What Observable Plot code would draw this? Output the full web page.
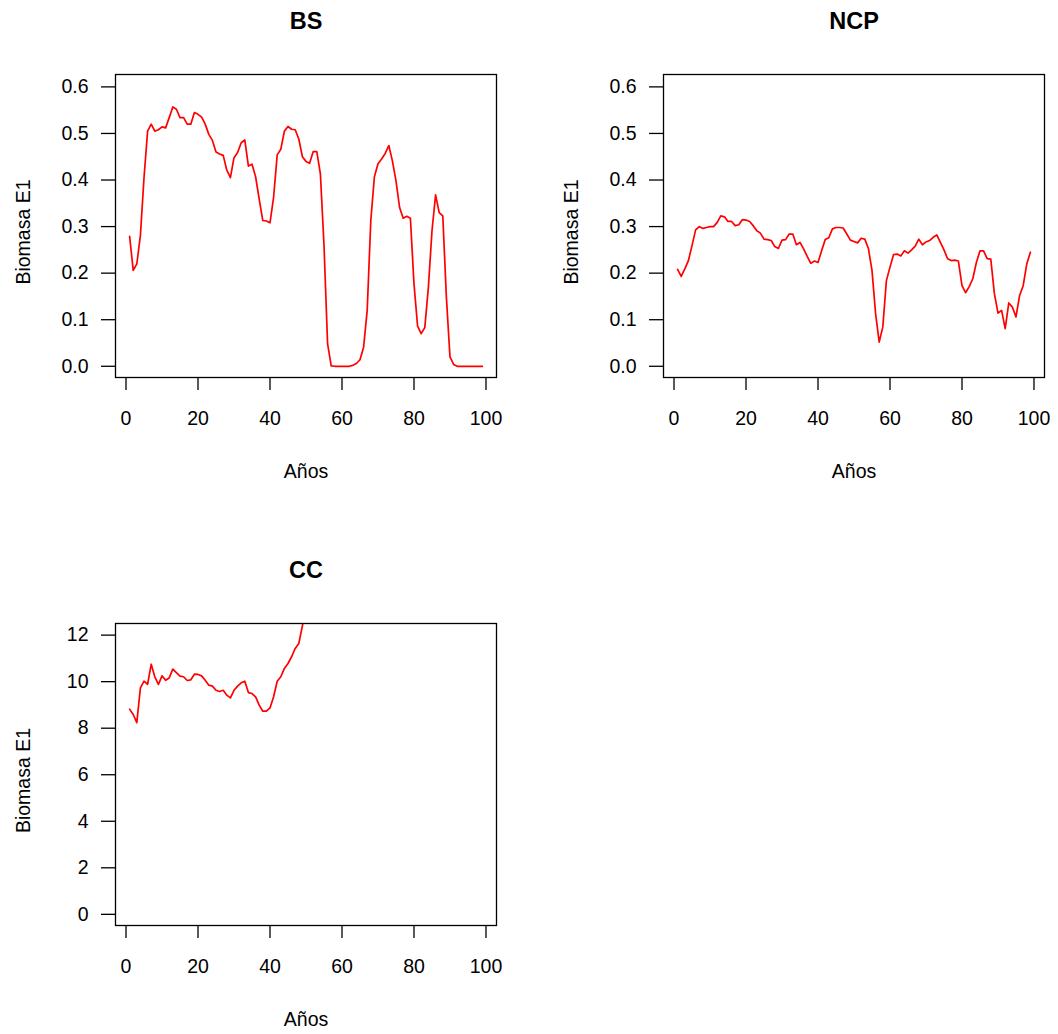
<!DOCTYPE html>
<html>
<head>
<meta charset="utf-8">
<script src="https://cdn.jsdelivr.net/npm/d3@7"></script>
<script src="https://cdn.jsdelivr.net/npm/@observablehq/plot@0.6"></script>
<style>
  body { margin: 0; background: #fff; }
  #wrap { position: relative; width: 1058px; height: 1034px; background: #fff; overflow: hidden; }
  #wrap > svg { position: absolute; }
</style>
</head>
<body>
<div id="wrap"></div>
<script>
// Years (index of the simulation)
const years = d3.range(1, 100);
const xTicks = [0, 20, 40, 60, 80, 100];

// Panel titles
const titles = ["BS", "NCP", "CC"];
const xLabel = "Años";
const yLabel = "Biomasa E1";

// BS series (years 1..99)
const bsValues = [
  0.279, 0.206, 0.220, 0.281, 0.405, 0.505, 0.520, 0.505, 0.508, 0.514,
  0.512, 0.534, 0.557, 0.552, 0.534, 0.534, 0.520, 0.520, 0.545, 0.541,
  0.535, 0.520, 0.498, 0.485, 0.460, 0.456, 0.453, 0.421, 0.405, 0.448,
  0.459, 0.480, 0.486, 0.430, 0.434, 0.407, 0.359, 0.313, 0.312, 0.308,
  0.363, 0.454, 0.466, 0.505, 0.515, 0.509, 0.508, 0.488, 0.450, 0.440,
  0.436, 0.461, 0.461, 0.413, 0.260, 0.048, 0.001, 0.000, 0.000, 0.000,
  0.000, 0.000, 0.002, 0.006, 0.014, 0.041, 0.120, 0.313, 0.407, 0.435,
  0.445, 0.457, 0.474, 0.441, 0.398, 0.341, 0.318, 0.322, 0.318, 0.177,
  0.086, 0.070, 0.083, 0.170, 0.291, 0.368, 0.330, 0.323, 0.148, 0.020,
  0.004, 0.000, 0.000, 0.000, 0.000, 0.000, 0.000, 0.000, 0.000
];

// NCP series (years 1..99)
const ncpValues = [
  0.208, 0.193, 0.209, 0.227, 0.259, 0.293, 0.300, 0.296, 0.298, 0.300,
  0.300, 0.309, 0.323, 0.321, 0.311, 0.311, 0.302, 0.304, 0.315, 0.314,
  0.311, 0.302, 0.291, 0.286, 0.273, 0.272, 0.270, 0.257, 0.253, 0.271,
  0.272, 0.284, 0.284, 0.261, 0.266, 0.252, 0.236, 0.221, 0.226, 0.223,
  0.248, 0.272, 0.276, 0.295, 0.298, 0.298, 0.297, 0.284, 0.271, 0.268,
  0.265, 0.275, 0.273, 0.253, 0.206, 0.113, 0.052, 0.084, 0.184, 0.213,
  0.240, 0.241, 0.237, 0.248, 0.243, 0.250, 0.258, 0.273, 0.261, 0.267,
  0.270, 0.277, 0.282, 0.266, 0.250, 0.231, 0.227, 0.228, 0.226, 0.173,
  0.158, 0.171, 0.188, 0.223, 0.248, 0.248, 0.231, 0.230, 0.156, 0.114,
  0.120, 0.081, 0.136, 0.127, 0.106, 0.152, 0.173, 0.220, 0.245
];

// CC series (years 1..50, then leaves the plotting region)
const ccValues = [
  8.82, 8.59, 8.24, 9.73, 10.02, 9.89, 10.75, 10.21, 9.88, 10.25,
  10.06, 10.16, 10.54, 10.39, 10.24, 10.21, 10.05, 10.08, 10.32, 10.31,
  10.25, 10.06, 9.85, 9.81, 9.63, 9.58, 9.63, 9.42, 9.30, 9.63,
  9.81, 9.95, 10.02, 9.53, 9.49, 9.35, 8.99, 8.73, 8.73, 8.87,
  9.35, 10.02, 10.21, 10.57, 10.78, 11.07, 11.43, 11.64, 12.40, 13.30
];

const smallTicks = [0, 0.1, 0.2, 0.3, 0.4, 0.5, 0.6];
const ccTicks = [0, 2, 4, 6, 8, 10, 12];

const FONT = "'Liberation Sans', Arial, Helvetica, sans-serif";
const FS = 19.5;

function panel({title, values, yDomain, yTicks, yFormat, left, top, width, height, mLeft, mRight, mTop, mBottom}) {
  const data = values.map((v, i) => ({x: years[i], y: v}));
  const svg = Plot.plot({
    width, height,
    marginLeft: mLeft, marginRight: mRight, marginTop: mTop, marginBottom: mBottom,
    style: {fontFamily: FONT, fontSize: FS + "px", color: "black", background: "white", overflow: "visible"},
    x: {domain: [-2.92, 102.92]},
    y: {domain: yDomain},
    marks: [
      Plot.line(data, {x: "x", y: "y", stroke: "#ff0000", strokeWidth: 1.7, clip: true}),
      Plot.frame({stroke: "black", strokeWidth: 1.3}),
      Plot.axisX(xTicks, {tickSize: 13, tickPadding: 21, fontSize: FS, label: null, strokeWidth: 1.3, tickFormat: d3.format("d")}),
      Plot.axisY(yTicks, {tickSize: 14, tickPadding: 13, fontSize: FS, label: null, strokeWidth: 1.3, tickFormat: yFormat}),
      Plot.text([title], {frameAnchor: "top", dy: -53, lineAnchor: "middle", textAnchor: "middle", fontWeight: "bold", fontSize: 23.5, fill: "black"}),
      Plot.text([xLabel], {frameAnchor: "bottom", dy: 94, lineAnchor: "middle", textAnchor: "middle", fontSize: FS, fill: "black"}),
      Plot.text([yLabel], {frameAnchor: "left", dx: -92, dy: 6, rotate: -90, lineAnchor: "middle", textAnchor: "middle", fontSize: FS, fill: "black"})
    ]
  });
  svg.style.left = left + "px";
  svg.style.top = top + "px";
  return svg;
}

const wrap = document.getElementById("wrap");
wrap.appendChild(panel({
  title: titles[0], values: bsValues, yDomain: [-0.0241, 0.6266], yTicks: smallTicks, yFormat: d3.format(".1f"),
  left: 0, top: 0, width: 529, height: 517, mLeft: 115, mRight: 33, mTop: 74, mBottom: 140
}));
wrap.appendChild(panel({
  title: titles[1], values: ncpValues, yDomain: [-0.0241, 0.6266], yTicks: smallTicks, yFormat: d3.format(".1f"),
  left: 548, top: 0, width: 510, height: 517, mLeft: 115, mRight: 14, mTop: 74, mBottom: 140
}));
wrap.appendChild(panel({
  title: titles[2], values: ccValues, yDomain: [-0.48, 12.5], yTicks: ccTicks, yFormat: d3.format("d"),
  left: 0, top: 549, width: 529, height: 485, mLeft: 115, mRight: 33, mTop: 74, mBottom: 109
}));
</script>
</body>
</html>
